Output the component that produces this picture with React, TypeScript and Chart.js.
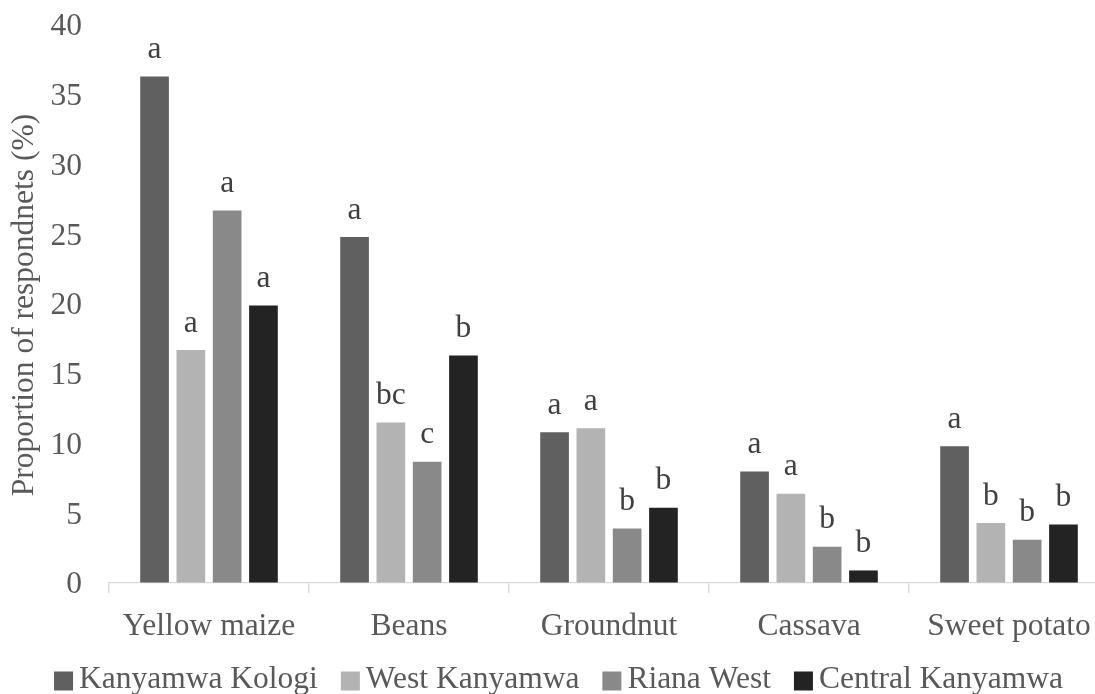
import React, { useEffect, useRef } from "react";
import { Chart, registerables } from "chart.js";

Chart.register(...registerables);

const categories = ["Yellow maize", "Beans", "Groundnut", "Cassava", "Sweet potato"];
const seriesNames = ["Kanyamwa Kologi", "West Kanyamwa", "Riana West", "Central Kanyamwa"];
const kanyamwaKologi = [36.3, 24.8, 10.8, 8.0, 9.8];
const westKanyamwa = [16.7, 11.5, 11.1, 6.4, 4.3];
const rianaWest = [26.7, 8.7, 3.9, 2.6, 3.1];
const centralKanyamwa = [19.9, 16.3, 5.4, 0.9, 4.2];
const lettersKologi = ["a", "a", "a", "a", "a"];
const lettersWest = ["a", "bc", "a", "a", "b"];
const lettersRiana = ["a", "c", "b", "b", "b"];
const lettersCentral = ["a", "b", "b", "b", "b"];
const seriesColors = ["#606060", "#b3b3b3", "#898989", "#232323"];
const yMin = 0;
const yMax = 40;
const yStep = 5;
const yTitle = "Proportion of respondnets (%)";

const FONT = '"Liberation Serif", "Times New Roman", serif';
const FONT_SIZE = 31.5;
const TEXT_COLOR = "#595959";

export default function App() {
  const ref = useRef<HTMLCanvasElement | null>(null);

  useEffect(() => {
    const canvas = ref.current;
    if (!canvas) return;
    const seriesValues = [kanyamwaKologi, westKanyamwa, rianaWest, centralKanyamwa];
    const seriesLetters = [lettersKologi, lettersWest, lettersRiana, lettersCentral];

    const letterPlugin = {
      id: "letters",
      afterDatasetsDraw(chart: any) {
        const ctx = chart.ctx;
        ctx.save();
        ctx.font = `${FONT_SIZE}px ${FONT}`;
        ctx.fillStyle = "#404040";
        ctx.textAlign = "center";
        ctx.textBaseline = "alphabetic";
        chart.data.datasets.forEach((_ds: any, i: number) => {
          const meta = chart.getDatasetMeta(i);
          meta.data.forEach((bar: any, j: number) => {
            ctx.fillText(seriesLetters[i][j], bar.x, bar.y - 18.5);
          });
        });
        ctx.restore();
      },
    };

    const extrasPlugin = {
      id: "extras",
      afterDraw(chart: any) {
        const ctx = chart.ctx;
        const area = chart.chartArea;
        ctx.save();
        ctx.font = `${FONT_SIZE}px ${FONT}`;
        ctx.fillStyle = TEXT_COLOR;
        ctx.translate(25, (area.top + area.bottom) / 2 + 1);
        ctx.rotate(-Math.PI / 2);
        ctx.textAlign = "center";
        ctx.textBaseline = "middle";
        ctx.fillText(yTitle, 0, 0);
        ctx.restore();

        ctx.save();
        ctx.font = `${FONT_SIZE}px ${FONT}`;
        ctx.textBaseline = "middle";
        ctx.textAlign = "left";
        const box = 19;
        const gapText = 6;
        const gapItem = 23;
        const widths = seriesNames.map((n) => ctx.measureText(n).width);
        const total =
          widths.reduce((a, w) => a + box + gapText + w, 0) + gapItem * (seriesNames.length - 1);
        let x = chart.width / 2 - total / 2;
        const cy = 680;
        seriesNames.forEach((n, i) => {
          ctx.fillStyle = seriesColors[i];
          ctx.fillRect(x, cy - box / 2 + 1, box, box);
          ctx.fillStyle = TEXT_COLOR;
          ctx.fillText(n, x + box + gapText, cy);
          x += box + gapText + widths[i] + gapItem;
        });
        ctx.restore();
      },
    };

    const chart = new Chart(canvas, {
      type: "bar",
      data: {
        labels: categories,
        datasets: seriesNames.map((name, i) => ({
          label: name,
          data: seriesValues[i],
          backgroundColor: seriesColors[i],
          borderWidth: 0,
          categoryPercentage: 0.726,
          barPercentage: 0.79,
        })),
      },
      options: {
        animation: false,
        responsive: false,
        devicePixelRatio: 1,
        layout: { padding: { top: 25, right: 8, left: 0, bottom: 0 } },
        plugins: {
          legend: { display: false },
          tooltip: { enabled: false },
          title: { display: false },
        },
        scales: {
          x: {
            afterFit(scale: any) {
              scale.height = 111;
            },
            grid: {
              display: true,
              drawOnChartArea: false,
              drawTicks: true,
              tickLength: 10,
              color: "#d9d9d9",
              lineWidth: 1.3,
            },
            border: { display: true, color: "#d9d9d9", width: 1.3 },
            ticks: {
              color: TEXT_COLOR,
              font: { family: FONT, size: FONT_SIZE },
              padding: 15,
              autoSkip: false,
              maxRotation: 0,
            },
          },
          y: {
            min: yMin,
            max: yMax,
            afterFit(scale: any) {
              scale.width = 109;
            },
            grid: {
              display: true,
              drawOnChartArea: false,
              drawTicks: true,
              tickLength: 27,
              color: "rgba(0,0,0,0)",
            },
            border: { display: false },
            ticks: {
              stepSize: yStep,
              color: TEXT_COLOR,
              font: { family: FONT, size: FONT_SIZE },
              padding: 0,
              labelOffset: 2,
            },
          },
        },
      },
      plugins: [letterPlugin, extrasPlugin],
    });
    return () => chart.destroy();
  }, []);

  return (
    <div
      style={{
        position: "fixed",
        left: 0,
        top: 0,
        width: 1095,
        height: 694,
        overflow: "hidden",
        background: "#ffffff",
      }}
    >
      <canvas
        ref={ref}
        width={1117}
        height={694}
        style={{ width: 1117, height: 694, display: "block" }}
      />
    </div>
  );
}
